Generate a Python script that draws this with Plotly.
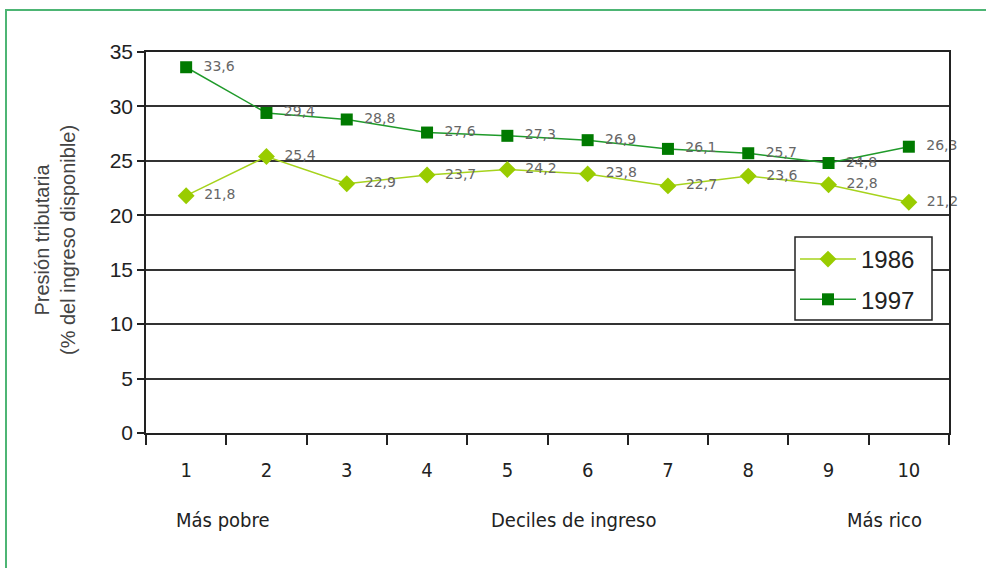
import plotly.graph_objects as go

deciles = ["1", "2", "3", "4", "5", "6", "7", "8", "9", "10"]
y1986 = [21.8, 25.4, 22.9, 23.7, 24.2, 23.8, 22.7, 23.6, 22.8, 21.2]
y1997 = [33.6, 29.4, 28.8, 27.6, 27.3, 26.9, 26.1, 25.7, 24.8, 26.3]
yticks = [0, 5, 10, 15, 20, 25, 30, 35]

def fmt(v):
    return "\u00a0\u00a0" + f"{v:.1f}".replace(".", ",")

MAIN = "Arial, 'Liberation Sans', sans-serif"
NARROW = "'Liberation Sans Narrow', 'Arial Narrow', 'DejaVu Sans Condensed', Arial, sans-serif"
LABEL = "'DejaVu Sans', Verdana, sans-serif"

# body margin removed via post_script, so figure sits at (0,0)
W, H = 986, 568
L, T = 146, 52
PW, PH = 803, 381

def px(xp):
    return (xp - L) / PW

def py(yp):
    return (T + PH - yp) / PH

fig = go.Figure()
fig.add_trace(go.Scatter(
    x=deciles, y=y1986, name="1986", mode="lines+markers+text", legendgroup="a",
    line=dict(color="#a6d31c", width=1.5),
    marker=dict(symbol="diamond", size=13, color="#99cc00"),
    text=[fmt(v) for v in y1986], textposition="middle right", cliponaxis=False,
    textfont=dict(family=LABEL, size=14, color="#666666"),
))
fig.add_trace(go.Scatter(
    x=deciles, y=y1997, name="1997", mode="lines+markers+text", legendgroup="b",
    line=dict(color="#1f9a2a", width=1.5),
    marker=dict(symbol="square", size=12, color="#007a00"),
    text=[fmt(v) for v in y1997], textposition="middle right", cliponaxis=False,
    textfont=dict(family=LABEL, size=14, color="#666666"),
))

fig.update_layout(
    width=W, height=H,
    margin=dict(l=L, r=W - L - PW, t=T, b=H - T - PH),
    paper_bgcolor="white", plot_bgcolor="white",
    font=dict(family=MAIN, color="#222222"),
    showlegend=True,
    legend=dict(
        x=px(795), y=py(237), xanchor="left", yanchor="top",
        bgcolor="rgba(0,0,0,0)", borderwidth=0,
        font=dict(family=MAIN, size=24, color="#222222"),
        itemwidth=56, traceorder="grouped", tracegroupgap=6,
    ),
    xaxis=dict(
        type="category", range=[-0.5, 9.5],
        showline=True, linecolor="#222222", linewidth=1.5, mirror=True,
        ticks="outside", tickson="boundaries", ticklen=10, tickwidth=1.5, tickcolor="#222222",
        ticklabelstandoff=18,
        tickfont=dict(family=NARROW, size=20, color="#222222"),
        showgrid=False, fixedrange=True,
    ),
    yaxis=dict(
        range=[0, 35], tickvals=yticks, ticktext=[str(v) for v in yticks],
        showline=True, linecolor="#222222", linewidth=1.5, mirror=True,
        ticks="outside", ticklen=7, tickwidth=1.5, tickcolor="#222222",
        tickfont=dict(family=MAIN, size=21, color="#222222"),
        showgrid=True, gridcolor="#333333", gridwidth=1.8,
        zeroline=False, fixedrange=True,
    ),
    shapes=[
        dict(type="rect", xref="paper", yref="paper",
             x0=px(6), y0=-0.6, x1=1.2, y1=py(10),
             line=dict(color="#4db574", width=2), fillcolor="rgba(0,0,0,0)", layer="below"),
        # legend box
        dict(type="rect", xref="paper", yref="paper",
             x0=px(795), y0=py(320), x1=px(932), y1=py(237),
             line=dict(color="#222222", width=1.5), fillcolor="white", layer="above"),
    ],
    annotations=[
        dict(text="Presión tributaria<br>(% del ingreso disponible)", textangle=-90,
             xref="paper", yref="paper", x=px(55), y=py(240), xanchor="center", yanchor="middle",
             showarrow=False, font=dict(family=MAIN, size=20, color="#444444")),
        dict(text="Más pobre", xref="paper", yref="paper", x=px(223), y=py(520),
             xanchor="center", yanchor="middle",
             showarrow=False, font=dict(family=NARROW, size=20, color="#222222")),
        dict(text="Deciles de ingreso", xref="paper", yref="paper", x=px(573), y=py(520),
             xanchor="center", yanchor="middle",
             showarrow=False, font=dict(family=NARROW, size=20, color="#222222")),
        dict(text="Más rico", xref="paper", yref="paper", x=px(884), y=py(520),
             xanchor="center", yanchor="middle",
             showarrow=False, font=dict(family=NARROW, size=20, color="#222222")),
    ],
)

fig.write_html("out.html", config={"displayModeBar": False},
               post_script="document.body.style.margin='0px';")
